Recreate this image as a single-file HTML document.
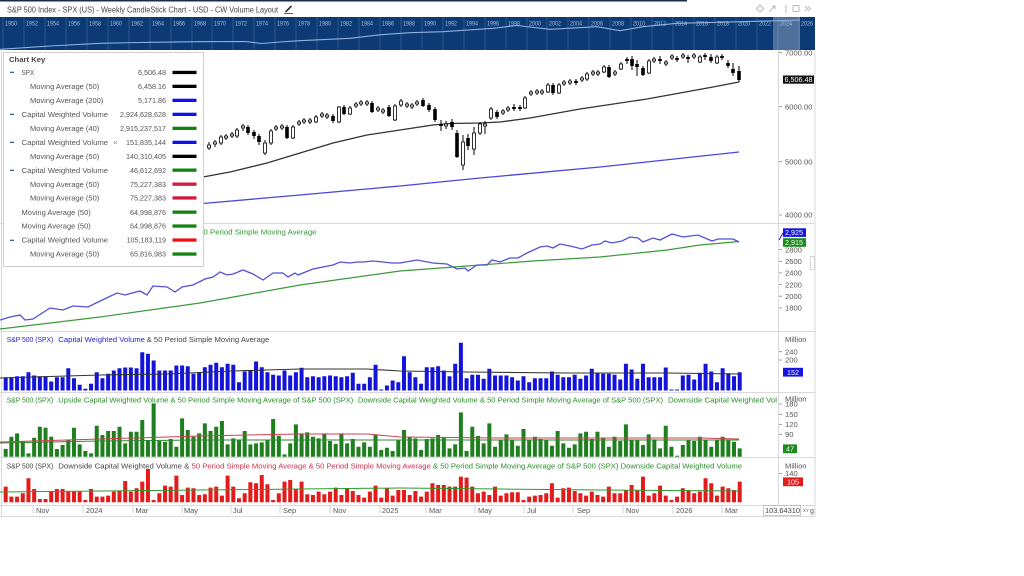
<!DOCTYPE html>
<html><head><meta charset="utf-8"><style>
html,body{margin:0;padding:0;background:#fff;}
svg{display:block;}
</style></head><body>
<svg width="1024" height="576" viewBox="0 0 1024 576" xmlns="http://www.w3.org/2000/svg" font-family="Liberation Sans, sans-serif">
<rect width="1024" height="576" fill="#fff"/>
<rect x="0" y="0" width="687" height="1.5" fill="#1c2b48"/>
<text x="7" y="12.3" font-size="8" fill="#444" textLength="271" lengthAdjust="spacingAndGlyphs">S&amp;P 500 Index - SPX (US) - Weekly CandleStick Chart - USD - CW Volume Layout</text>
<path d="M285.5 12 L291.5 6" stroke="#333" stroke-width="1.6"/><path d="M284 13.6h9" stroke="#333" stroke-width="0.8"/>
<g stroke="#aaa" fill="none" stroke-width="0.8">
<path d="M760 5 L763.5 8.5 L760 12 L756.5 8.5Z"/>
<path d="M769 12 L775 6 M772 6h3v3"/>
<path d="M786 5v8"/>
<rect x="793" y="5.5" width="6" height="6"/>
<path d="M805 6l2.5 2.5l-2.5 2.5M808 6l2.5 2.5l-2.5 2.5"/>
</g>

<g stroke="#d9d9d9" stroke-width="1">
<path d="M0 223.5H815M0 331.5H815M0 392.5H815M0 457.5H815M0 505.5H815M0 516.5H815"/>
<path d="M778.5 50V516.5M1.5 50V516.5M815 50V516.5"/>
</g>

<polyline fill="none" stroke="#333" stroke-width="1.3" points="203,177 230,172 267,163 300,153 333,143 367,135 400,130 433,125 450,123.5 480,123 500,122 530,118 580,109 647,99 680,93 713,87 739,82"/>
<polyline fill="none" stroke="#4b45dc" stroke-width="1.3" points="203,203.5 300,195 400,186 480,178 600,167 739,152"/>

<path fill="none" stroke="#000" stroke-width="1" d="M209 142V150M215 140V147M221 135V145M226 134V140M232 132V138M237 128V138M243 124V131M248 125V135M254 130V139M259 134V145M265 140V155M271 129V145M276 125V131M282 124V130M287 125V139M293 125V139M299 120V126M304 118V124M310 118V124M316 115V123M322 112V118M327 113V119M333 114V123M339 106V123M344 105V115M350 106V115M356 102V108M361 100V106M367 100V106M372 101V113M378 106V112M383 108V114M389 105V117M395 104V121M401 99V107M407 102V108M412 103V109M417 100V106M423 98V107M429 103V112M435 107V122M441 120V131M446 121V129M452 119V130M457 130V158M463 135V170M468 134V150M474 127V155M480 122V135M485 121V134M491 107V120M497 110V119M503 109V115M508 106V112M514 104V111M520 105V111M525 96V109M531 90V96M537 89V95M542 89V95M548 83V93M553 83V95M559 83V94M564 80V86M570 79V85M576 79V85M582 76V82M587 72V81M593 70V76M598 70V76M604 65V73M609 65V78M615 70V76M621 62V70M627 57V64M632 56V70M637 60V76M643 66V76M649 59V74M654 57V63M660 56V64M666 60V66M672 54V60M677 56V62M683 53V59M688 55V63M694 53V59M700 55V63M705 53V60M711 54V63M717 55V64M722 54V60M728 60V68M733 63V76M739 66V82"/>
<path fill="#000" d="M246.2 127h3.6v6h-3.6zM252.2 132h3.6v4h-3.6zM257.2 136h3.6v6h-3.6zM285.2 127h3.6v11h-3.6zM331.2 116h3.6v5h-3.6zM342.2 107h3.6v7h-3.6zM370.2 103h3.6v9h-3.6zM387.2 107h3.6v9h-3.6zM421.2 100h3.6v6h-3.6zM427.2 105h3.6v5h-3.6zM433.2 109h3.6v11h-3.6zM439.2 124h3.6v2h-3.6zM450.2 122h3.6v5h-3.6zM455.2 133h3.6v24h-3.6zM466.2 138h3.6v8h-3.6zM495.2 112h3.6v5h-3.6zM512.2 107h3.6v2h-3.6zM518.2 107h3.6v2h-3.6zM551.2 85h3.6v8h-3.6zM574.2 81h3.6v2h-3.6zM607.2 67h3.6v10h-3.6zM625.2 59h3.6v2h-3.6zM630.2 59h3.6v7h-3.6zM635.2 64h3.6v3h-3.6zM641.2 68h3.6v7h-3.6zM658.2 59h3.6v2h-3.6zM675.2 58h3.6v2h-3.6zM686.2 57h3.6v2h-3.6zM703.2 55h3.6v2h-3.6zM709.2 57h3.6v4h-3.6zM720.2 56h3.6v2h-3.6zM726.2 63h3.6v3h-3.6zM731.2 69h3.6v4h-3.6zM737.2 71h3.6v9h-3.6z"/>
<path fill="#fff" stroke="#000" stroke-width="0.8" d="M207.5 145h3v3h-3zM213.5 142h3v2h-3zM219.5 137h3v6h-3zM224.5 136h3v2h-3zM230.5 134h3v2h-3zM235.5 130h3v6h-3zM241.5 126h3v2h-3zM263.5 143h3v10h-3zM269.5 131h3v12h-3zM274.5 127h3v2h-3zM280.5 126h3v2h-3zM291.5 127h3v11h-3zM297.5 122h3v2h-3zM302.5 120h3v2h-3zM308.5 120h3v2h-3zM314.5 117h3v5h-3zM320.5 114h3v2h-3zM325.5 115h3v2h-3zM337.5 107h3v15h-3zM348.5 108h3v6h-3zM354.5 104h3v2h-3zM359.5 102h3v2h-3zM365.5 102h3v2h-3zM376.5 108h3v2h-3zM381.5 110h3v2h-3zM393.5 106h3v14h-3zM399.5 101h3v4h-3zM405.5 104h3v2h-3zM410.5 105h3v2h-3zM415.5 102h3v2h-3zM444.5 124h3v2h-3zM461.5 142h3v23h-3zM472.5 133h3v16h-3zM478.5 124h3v9h-3zM483.5 124h3v2h-3zM489.5 109h3v9h-3zM501.5 111h3v2h-3zM506.5 108h3v2h-3zM523.5 98h3v10h-3zM529.5 92h3v2h-3zM535.5 91h3v2h-3zM540.5 91h3v2h-3zM546.5 85h3v7h-3zM557.5 85h3v8h-3zM562.5 82h3v2h-3zM568.5 81h3v2h-3zM580.5 78h3v2h-3zM585.5 74h3v5h-3zM591.5 72h3v2h-3zM596.5 72h3v2h-3zM602.5 67h3v5h-3zM613.5 72h3v2h-3zM619.5 64h3v5h-3zM647.5 61h3v12h-3zM652.5 59h3v2h-3zM664.5 62h3v2h-3zM670.5 56h3v2h-3zM681.5 55h3v2h-3zM692.5 55h3v2h-3zM698.5 57h3v5h-3zM715.5 57h3v6h-3z"/>

<polyline fill="none" stroke="#3b9b3b" stroke-width="1.2" points="0,329 50,323 100,317 150,310 200,303 250,294 300,285 350,278 400,271 467,266 533,261 600,257 667,250 700,245 739,241.5"/>
<polyline fill="none" stroke="#5550d8" stroke-width="1.3" points="0,320 10,317 20,315 25,320 33,319 50,308 63,310 73,306 88,307 98,302 117,293 125,295 140,291 147,295 153,286 167,287 175,292 182,287 193,285 205,279 213,277 220,272 227,275 233,274 243,270 253,274 263,280 273,273 283,273 288,277 295,273 298,275 313,269 323,267 333,265 340,262 350,263 357,262 363,262 373,261 383,262 392,263 400,263 417,260 433,263 447,264 457,269 465,268 468,271 477,265 487,265 492,260 500,262 510,258 518,258 527,253 540,247 547,246 553,248 560,244 570,246 582,249 592,245 600,244 605,241 612,243 622,241 630,237 638,238 643,242 653,238 660,240 672,234 683,237 698,235 712,241 718,239 733,239 739,242"/>
<text x="203.5" y="234.6" font-size="7.6" fill="#2e9a2e" textLength="113" lengthAdjust="spacingAndGlyphs">0 Period Simple Moving Average</text>

<path fill="#1414d8" d="M3.7 390.5v-13.3h4v13.3m1.69 0v-13.3h4v13.3m1.69 0v-14.3h4v14.3m1.69 0v-14.3h4v14.3m1.69 0v-18.3h4v18.3m1.69 0v-15h4v15m1.69 0v-14.3h4v14.3m1.69 0v-14.3h4v14.3m1.69 0v-9h4v9m1.69 0v-13.3h4v13.3m1.69 0v-13.3h4v13.3m1.69 0v-22.3h4v22.3m1.69 0v-12.3h4v12.3m1.69 0v-5.7h4v5.7m1.69 0v-1.7h4v1.7m1.69 0v-6.7h4v6.7m1.69 0v-18.3h4v18.3m1.69 0v-12.3h4v12.3m1.69 0v-16.7h4v16.7m1.69 0v-20h4v20m1.69 0v-22.3h4v22.3m1.69 0v-23h4v23m1.69 0v-23h4v23m1.69 0v-22.3h4v22.3m1.69 0v-38.3h4v38.3m1.69 0v-36.7h4v36.7m1.69 0v-30h4v30m1.69 0v-20h4v20m1.69 0v-20h4v20m1.69 0v-20h4v20m1.69 0v-25h4v25m1.69 0v-25h4v25m1.69 0v-24.3h4v24.3m1.69 0v-16.7h4v16.7m1.69 0v-18.3h4v18.3m1.69 0v-23.3h4v23.3m1.69 0v-25.7h4v25.7m1.69 0v-27.7h4v27.7m1.69 0v-23.3h4v23.3m1.69 0v-26.7h4v26.7m1.69 0v-25.7h4v25.7m1.69 0v-8.3h4v8.3m1.69 0v-19h4v19m1.69 0v-20h4v20m1.69 0v-29h4v29m1.69 0v-23.3h4v23.3m1.69 0v-18.3h4v18.3m1.69 0v-15.7h4v15.7m1.69 0v-15h4v15m1.69 0v-20h4v20m1.69 0v-15h4v15m1.69 0v-18.3h4v18.3m1.69 0v-22.7h4v22.7m1.69 0v-13.3h4v13.3m1.69 0v-14.3h4v14.3m1.69 0v-13.3h4v13.3m1.69 0v-14.3h4v14.3m1.69 0v-15h4v15m1.69 0v-14.3h4v14.3m1.69 0v-13.3h4v13.3m1.69 0v-14.3h4v14.3m1.69 0v-17.7h4v17.7m1.69 0v-6.7h4v6.7m1.69 0v-6.7h4v6.7m1.69 0v-13.3h4v13.3m1.69 0v-25.7h4v25.7m1.69 0v-1h4v1m1.69 0v-5h4v5m1.69 0v-10h4v10m1.69 0v-8.3h4v8.3m1.69 0v-34.3h4v34.3m1.69 0v-18.3h4v18.3m1.69 0v-13.3h4v13.3m1.69 0v-6.7h4v6.7m1.69 0v-23.3h4v23.3m1.69 0v-23.3h4v23.3m1.69 0v-24.3h4v24.3m1.69 0v-20h4v20m1.69 0v-14.3h4v14.3m1.69 0v-26.7h4v26.7m1.69 0v-47.7h4v47.7m1.69 0v-12.3h4v12.3m1.69 0v-15.7h4v15.7m1.69 0v-15.7h4v15.7m1.69 0v-11.7h4v11.7m1.69 0v-21.7h4v21.7m1.69 0v-15h4v15m1.69 0v-15h4v15m1.69 0v-15h4v15m1.69 0v-13.3h4v13.3m1.69 0v-10h4v10m1.69 0v-14.3h4v14.3m1.69 0v-8.3h4v8.3m1.69 0v-12.3h4v12.3m1.69 0v-12.3h4v12.3m1.69 0v-12.3h4v12.3m1.69 0v-19h4v19m1.69 0v-15.7h4v15.7m1.69 0v-13.3h4v13.3m1.69 0v-13.3h4v13.3m1.69 0v-15.7h4v15.7m1.69 0v-11.7h4v11.7m1.69 0v-15h4v15m1.69 0v-21.7h4v21.7m1.69 0v-17.7h4v17.7m1.69 0v-16.7h4v16.7m1.69 0v-16.7h4v16.7m1.69 0v-15.7h4v15.7m1.69 0v-11h4v11m1.69 0v-26.7h4v26.7m1.69 0v-21h4v21m1.69 0v-11.7h4v11.7m1.69 0v-26.7h4v26.7m1.69 0v-13.3h4v13.3m1.69 0v-13.3h4v13.3m1.69 0v-13.3h4v13.3m1.69 0v-23h4v23m1.69 0v-1h4v1m1.69 0v-1h4v1m1.69 0v-15h4v15m1.69 0v-15.7h4v15.7m1.69 0v-11h4v11m1.69 0v-17.7h4v17.7m1.69 0v-26.7h4v26.7m1.69 0v-19h4v19m1.69 0v-8.3h4v8.3m1.69 0v-22.3h4v22.3m1.69 0v-17.3h4v17.3m1.69 0v-14.3h4v14.3m1.69 0v-18.3h4v18.3"/>
<polyline fill="none" stroke="#333" stroke-width="1.1" points="0,378 100,375 167,374 233,371 300,369 367,369 400,371 467,372 567,373 667,373 739,374"/>
<text x="6.7" y="342" font-size="7.6" fill="#2424c0" textLength="46.6" lengthAdjust="spacingAndGlyphs">S&amp;P 500 (SPX)</text>
<text x="58.3" y="342" font-size="7.6" fill="#2424c8" textLength="86.7" lengthAdjust="spacingAndGlyphs">Capital Weighted Volume</text>
<text x="146.7" y="342" font-size="7.6" fill="#444" textLength="122.6" lengthAdjust="spacingAndGlyphs">&amp; 50 Period Simple Moving Average</text>

<path fill="#1f7f1f" d="M3.7 456.7v-7.7h4v7.7m1.69 0v-20h4v20m1.69 0v-23.3h4v23.3m1.69 0v-15.7h4v15.7m1.69 0v-3.3h4v3.3m1.69 0v-19h4v19m1.69 0v-30h4v30m1.69 0v-29h4v29m1.69 0v-20h4v20m1.69 0v-7.7h4v7.7m1.69 0v-11.7h4v11.7m1.69 0v-16.7h4v16.7m1.69 0v-29h4v29m1.69 0v-12.3h4v12.3m1.69 0v-5.7h4v5.7m1.69 0v-3.3h4v3.3m1.69 0v-31h4v31m1.69 0v-21.7h4v21.7m1.69 0v-25.7h4v25.7m1.69 0v-25.7h4v25.7m1.69 0v-30h4v30m1.69 0v-13.3h4v13.3m1.69 0v-25h4v25m1.69 0v-25h4v25m1.69 0v-36.7h4v36.7m1.69 0v-16.7h4v16.7m1.69 0v-53.3h4v53.3m1.69 0v-15.7h4v15.7m1.69 0v-15h4v15m1.69 0v-17.7h4v17.7m1.69 0v-10h4v10m1.69 0v-38.3h4v38.3m1.69 0v-26.7h4v26.7m1.69 0v-20h4v20m1.69 0v-23.3h4v23.3m1.69 0v-33.3h4v33.3m1.69 0v-25.7h4v25.7m1.69 0v-30h4v30m1.69 0v-35.7h4v35.7m1.69 0v-12.3h4v12.3m1.69 0v-18.3h4v18.3m1.69 0v-16.7h4v16.7m1.69 0v-25.7h4v25.7m1.69 0v-12.3h4v12.3m1.69 0v-13.3h4v13.3m1.69 0v-14.3h4v14.3m1.69 0v-16.7h4v16.7m1.69 0v-37.7h4v37.7m1.69 0v-21h4v21m1.69 0v-2.3h4v2.3m1.69 0v-13.3h4v13.3m1.69 0v-32.3h4v32.3m1.69 0v-23.3h4v23.3m1.69 0v-24.3h4v24.3m1.69 0v-20h4v20m1.69 0v-18.3h4v18.3m1.69 0v-23.3h4v23.3m1.69 0v-15.7h4v15.7m1.69 0v-12.7h4v12.7m1.69 0v-23.3h4v23.3m1.69 0v-13.3h4v13.3m1.69 0v-17.7h4v17.7m1.69 0v-10h4v10m1.69 0v-14.3h4v14.3m1.69 0v-10h4v10m1.69 0v-22.3h4v22.3m1.69 0v-6.7h4v6.7m1.69 0v-9h4v9m1.69 0v-5.7h4v5.7m1.69 0v-16.7h4v16.7m1.69 0v-26.7h4v26.7m1.69 0v-20h4v20m1.69 0v-18.3h4v18.3m1.69 0v-6.7h4v6.7m1.69 0v-17.7h4v17.7m1.69 0v-18.3h4v18.3m1.69 0v-21.7h4v21.7m1.69 0v-19h4v19m1.69 0v-8.3h4v8.3m1.69 0v-12.3h4v12.3m1.69 0v-44.3h4v44.3m1.69 0v-5.7h4v5.7m1.69 0v-30h4v30m1.69 0v-20.7h4v20.7m1.69 0v-13.3h4v13.3m1.69 0v-33.3h4v33.3m1.69 0v-10h4v10m1.69 0v-16.7h4v16.7m1.69 0v-22.3h4v22.3m1.69 0v-16.7h4v16.7m1.69 0v-11h4v11m1.69 0v-27.7h4v27.7m1.69 0v-16.7h4v16.7m1.69 0v-20h4v20m1.69 0v-17.7h4v17.7m1.69 0v-16.7h4v16.7m1.69 0v-11h4v11m1.69 0v-25.7h4v25.7m1.69 0v-13.3h4v13.3m1.69 0v-9h4v9m1.69 0v-12.3h4v12.3m1.69 0v-23.3h4v23.3m1.69 0v-25h4v25m1.69 0v-17.7h4v17.7m1.69 0v-25h4v25m1.69 0v-18.3h4v18.3m1.69 0v-10h4v10m1.69 0v-20h4v20m1.69 0v-15.7h4v15.7m1.69 0v-32.3h4v32.3m1.69 0v-16.7h4v16.7m1.69 0v-16.7h4v16.7m1.69 0v-11.7h4v11.7m1.69 0v-22.3h4v22.3m1.69 0v-17.3h4v17.3m1.69 0v-8.3h4v8.3m1.69 0v-31h4v31m1.69 0v-10h4v10m1.69 0v-1h4v1m1.69 0v-11.7h4v11.7m1.69 0v-16.7h4v16.7m1.69 0v-15.7h4v15.7m1.69 0v-20h4v20m1.69 0v-16.7h4v16.7m1.69 0v-10h4v10m1.69 0v-16.7h4v16.7m1.69 0v-20h4v20m1.69 0v-16.7h4v16.7m1.69 0v-15h4v15m1.69 0v-8.3h4v8.3"/>
<polyline fill="none" stroke="#2e8b2e" stroke-width="1" points="0,443 100,441 200,440 400,440 739,440"/>
<polyline fill="none" stroke="#d04050" stroke-width="1" points="0,442 100,439 200,436 300,434 367,434 400,437 500,438 600,438 700,438 739,439"/>
<g font-size="7.6" fill="#2a8f2a">
<text x="6.7" y="402.7" textLength="46.6" lengthAdjust="spacingAndGlyphs">S&amp;P 500 (SPX)</text>
<text x="58.3" y="402.7" textLength="295" lengthAdjust="spacingAndGlyphs">Upside Capital Weighted Volume &amp; 50 Period Simple Moving Average of S&amp;P 500 (SPX)</text>
<text x="358" y="402.7" textLength="305" lengthAdjust="spacingAndGlyphs">Downside Capital Weighted Volume &amp; 50 Period Simple Moving Average of S&amp;P 500 (SPX)</text>
<text x="668" y="402.7" textLength="109" lengthAdjust="spacingAndGlyphs">Downside Capital Weighted Vol</text>
</g>

<path fill="#e41b1b" d="M3.7 502.3v-15.7h4v15.7m1.69 0v-5.7h4v5.7m1.69 0v-5.7h4v5.7m1.69 0v-9h4v9m1.69 0v-24h4v24m1.69 0v-13.3h4v13.3m1.69 0v-3.3h4v3.3m1.69 0v-3.3h4v3.3m1.69 0v-10.7h4v10.7m1.69 0v-13.3h4v13.3m1.69 0v-13.3h4v13.3m1.69 0v-10.7h4v10.7m1.69 0v-10.7h4v10.7m1.69 0v-10.7h4v10.7m1.69 0v-2.3h4v2.3m1.69 0v-13.3h4v13.3m1.69 0v-5.7h4v5.7m1.69 0v-5.7h4v5.7m1.69 0v-6.7h4v6.7m1.69 0v-10.7h4v10.7m1.69 0v-11.3h4v11.3m1.69 0v-21.3h4v21.3m1.69 0v-10.7h4v10.7m1.69 0v-14h4v14m1.69 0v-20.7h4v20.7m1.69 0v-33.3h4v33.3m1.69 0v-2.3h4v2.3m1.69 0v-9h4v9m1.69 0v-16.7h4v16.7m1.69 0v-15.7h4v15.7m1.69 0v-26.7h4v26.7m1.69 0v-7.3h4v7.3m1.69 0v-14.7h4v14.7m1.69 0v-14h4v14m1.69 0v-7.3h4v7.3m1.69 0v-8h4v8m1.69 0v-14.7h4v14.7m1.69 0v-15.7h4v15.7m1.69 0v-6.7h4v6.7m1.69 0v-26.7h4v26.7m1.69 0v-15.7h4v15.7m1.69 0v-4h4v4m1.69 0v-9h4v9m1.69 0v-20h4v20m1.69 0v-19h4v19m1.69 0v-27.3h4v27.3m1.69 0v-18h4v18m1.69 0v-2.3h4v2.3m1.69 0v-9h4v9m1.69 0v-20.7h4v20.7m1.69 0v-22.3h4v22.3m1.69 0v-13.3h4v13.3m1.69 0v-20.7h4v20.7m1.69 0v-8h4v8m1.69 0v-7.3h4v7.3m1.69 0v-10.7h4v10.7m1.69 0v-8h4v8m1.69 0v-10.7h4v10.7m1.69 0v-14.7h4v14.7m1.69 0v-7.3h4v7.3m1.69 0v-14h4v14m1.69 0v-11.3h4v11.3m1.69 0v-7.3h4v7.3m1.69 0v-4.7h4v4.7m1.69 0v-10.7h4v10.7m1.69 0v-16.7h4v16.7m1.69 0v-4.7h4v4.7m1.69 0v-14h4v14m1.69 0v-6.7h4v6.7m1.69 0v-12.3h4v12.3m1.69 0v-12.3h4v12.3m1.69 0v-7.3h4v7.3m1.69 0v-11.3h4v11.3m1.69 0v-5.7h4v5.7m1.69 0v-10.7h4v10.7m1.69 0v-19h4v19m1.69 0v-17.3h4v17.3m1.69 0v-17.3h4v17.3m1.69 0v-15.7h4v15.7m1.69 0v-15.7h4v15.7m1.69 0v-25.7h4v25.7m1.69 0v-24.7h4v24.7m1.69 0v-15.7h4v15.7m1.69 0v-9h4v9m1.69 0v-10.7h4v10.7m1.69 0v-7.3h4v7.3m1.69 0v-15.7h4v15.7m1.69 0v-6.7h4v6.7m1.69 0v-9h4v9m1.69 0v-10h4v10m1.69 0v-10h4v10m1.69 0v-2.3h4v2.3m1.69 0v-5.7h4v5.7m1.69 0v-6.7h4v6.7m1.69 0v-7.3h4v7.3m1.69 0v-9h4v9m1.69 0v-19h4v19m1.69 0v-4.7h4v4.7m1.69 0v-14h4v14m1.69 0v-14.7h4v14.7m1.69 0v-11.3h4v11.3m1.69 0v-9h4v9m1.69 0v-6.7h4v6.7m1.69 0v-10.7h4v10.7m1.69 0v-7.3h4v7.3m1.69 0v-5.7h4v5.7m1.69 0v-15.7h4v15.7m1.69 0v-9h4v9m1.69 0v-9h4v9m1.69 0v-12.3h4v12.3m1.69 0v-17.3h4v17.3m1.69 0v-12.3h4v12.3m1.69 0v-25.7h4v25.7m1.69 0v-6.7h4v6.7m1.69 0v-9h4v9m1.69 0v-16.7h4v16.7m1.69 0v-6.7h4v6.7m1.69 0v-2.3h4v2.3m1.69 0v-5.7h4v5.7m1.69 0v-14h4v14m1.69 0v-12.3h4v12.3m1.69 0v-9h4v9m1.69 0v-10.7h4v10.7m1.69 0v-24h4v24m1.69 0v-19h4v19m1.69 0v-6.7h4v6.7m1.69 0v-15.7h4v15.7m1.69 0v-14h4v14m1.69 0v-12.3h4v12.3m1.69 0v-20.7h4v20.7"/>
<polyline fill="none" stroke="#2e9a2e" stroke-width="1" points="0,492 200,490 400,488 500,489 600,490 739,491"/>
<g font-size="7.6">
<text x="6.7" y="468.4" fill="#444" textLength="46.6" lengthAdjust="spacingAndGlyphs">S&amp;P 500 (SPX)</text>
<text x="58.3" y="468.4" fill="#444" textLength="131" lengthAdjust="spacingAndGlyphs">Downside Capital Weighted Volume &amp;</text>
<text x="191.7" y="468.4" fill="#d0304a" textLength="239" lengthAdjust="spacingAndGlyphs">50 Period Simple Moving Average &amp; 50 Period Simple Moving Average</text>
<text x="433" y="468.4" fill="#2a8f2a" textLength="309" lengthAdjust="spacingAndGlyphs">&amp; 50 Period Simple Moving Average of S&amp;P 500 (SPX) Downside Capital Weighted Volume</text>
</g>

<g font-size="7.6" fill="#555">
<path stroke="#888" stroke-width="0.8" d="M779 52.7h3M779 106.7h3M779 161.7h3M779 215h3M779 249.6h3M779 261.3h3M779 272.9h3M779 284.6h3M779 296.2h3M779 307.9h3M779 351.7h3M779 360h3M779 404h3M779 414.3h3M779 424.3h3M779 434.3h3M779 473.5h3"/>
<text x="785" y="55.4">7000.00</text>
<text x="785" y="109.4">6000.00</text>
<text x="785" y="164.4">5000.00</text>
<text x="785" y="217.7">4000.00</text>
<text x="785" y="252.3">2800</text>
<text x="785" y="264">2600</text>
<text x="785" y="275.6">2400</text>
<text x="785" y="287.3">2200</text>
<text x="785" y="298.9">2000</text>
<text x="785" y="310.6">1800</text>
<text x="785" y="342">Million</text>
<text x="785" y="354.4">240</text>
<text x="785" y="362.7">200</text>
<text x="785" y="401.5">Million</text>
<text x="785" y="406.7">180</text>
<text x="785" y="417">150</text>
<text x="785" y="427">120</text>
<text x="785" y="437">90</text>
<text x="785" y="468.4">Million</text>
<text x="785" y="476.2">140</text>
</g>
<path stroke="#1515e0" stroke-width="1" d="M779 240L783 233"/>
<rect x="783" y="75.5" width="31" height="8.2" fill="#111"/>
<text x="784.5" y="82.2" font-size="7.2" fill="#fff" textLength="28" lengthAdjust="spacingAndGlyphs">6,506.48</text>
<rect x="783" y="228.3" width="23" height="8.6" fill="#1515e0"/>
<text x="785" y="235.2" font-size="7.2" fill="#fff">2,925</text>
<rect x="783" y="238.2" width="23" height="8.6" fill="#1a8a1a"/>
<text x="785" y="245.1" font-size="7.2" fill="#fff">2,915</text>
<rect x="783" y="367.8" width="20" height="8.8" fill="#1515e0"/>
<text x="787" y="374.8" font-size="7.2" fill="#fff">152</text>
<rect x="783" y="444.4" width="14" height="8.8" fill="#1a8a1a"/>
<text x="786" y="451.4" font-size="7.2" fill="#fff">47</text>
<rect x="783" y="477.4" width="20" height="8.8" fill="#e51c1c"/>
<text x="787" y="484.4" font-size="7.2" fill="#fff">105</text>
<rect x="810.5" y="256.5" width="4" height="13" fill="none" stroke="#ccc" stroke-width="0.8"/>

<path stroke="#ccc" stroke-width="0.8" d="M33 505.5v8M83 505.5v8M133 505.5v8M182 505.5v8M231 505.5v8M280 505.5v8M330 505.5v8M380 505.5v8M426 505.5v8M475 505.5v8M524 505.5v8M573 505.5v8M623 505.5v8M673 505.5v8M722 505.5v8"/>
<g font-size="7.4" fill="#555">
<text x="36" y="512.8">Nov</text>
<text x="86" y="512.8">2024</text>
<text x="135.5" y="512.8">Mar</text>
<text x="184" y="512.8">May</text>
<text x="233" y="512.8">Jul</text>
<text x="283" y="512.8">Sep</text>
<text x="333" y="512.8">Nov</text>
<text x="382" y="512.8">2025</text>
<text x="429" y="512.8">Mar</text>
<text x="478" y="512.8">May</text>
<text x="527" y="512.8">Jul</text>
<text x="577" y="512.8">Sep</text>
<text x="626" y="512.8">Nov</text>
<text x="676" y="512.8">2026</text>
<text x="725" y="512.8">Mar</text>
</g>
<rect x="763.5" y="505.5" width="37" height="10" fill="#fff" stroke="#bbb" stroke-width="0.8"/>
<text x="765" y="513" font-size="7.2" fill="#444" textLength="35" lengthAdjust="spacingAndGlyphs">103.64310</text>
<text x="803" y="512" font-size="4.5" fill="#555">XY</text>
<text x="810" y="513" font-size="7" fill="#555">g</text>

<rect x="0" y="17" width="815" height="33" fill="#0b3a75"/>
<rect x="773" y="17" width="27" height="33" fill="#ffffff" fill-opacity="0.28"/>
<g stroke="#ffffff" stroke-opacity="0.18" stroke-width="0.8">
<path d="M3 17v33M24 17v33M45 17v33M66 17v33M87 17v33M108 17v33M129 17v33M150 17v33M171 17v33M192 17v33M212 17v33M233 17v33M254 17v33M275 17v33M296 17v33M317 17v33M338 17v33M359 17v33M380 17v33M401 17v33M422 17v33M443 17v33M464 17v33M485 17v33M506 17v33M527 17v33M547 17v33M568 17v33M589 17v33M610 17v33M631 17v33M652 17v33M673 17v33M694 17v33M715 17v33M736 17v33M757 17v33M778 17v33M799 17v33"/>
</g>
<polyline fill="none" stroke="#8fb3e0" stroke-width="1.1" points="0,49.3 50,46 100,43.3 150,42.3 200,41.7 245,41.5 262,43.5 280,42 300,40.7 350,38.3 380,34.8 410,32.7 443,31.7 493,28.3 517,25.5 550,29.3 597,26.7 620,30.7 643,26.7 677,23.3 743,21.7 800,20"/>
<g font-size="6.2" fill="#a9bedc">
<text x="5" y="25.5" textLength="12" lengthAdjust="spacingAndGlyphs">1950</text>
<text x="26" y="25.5" textLength="12" lengthAdjust="spacingAndGlyphs">1952</text>
<text x="47" y="25.5" textLength="12" lengthAdjust="spacingAndGlyphs">1954</text>
<text x="68" y="25.5" textLength="12" lengthAdjust="spacingAndGlyphs">1956</text>
<text x="89" y="25.5" textLength="12" lengthAdjust="spacingAndGlyphs">1958</text>
<text x="110" y="25.5" textLength="12" lengthAdjust="spacingAndGlyphs">1960</text>
<text x="131" y="25.5" textLength="12" lengthAdjust="spacingAndGlyphs">1962</text>
<text x="152" y="25.5" textLength="12" lengthAdjust="spacingAndGlyphs">1964</text>
<text x="173" y="25.5" textLength="12" lengthAdjust="spacingAndGlyphs">1966</text>
<text x="194" y="25.5" textLength="12" lengthAdjust="spacingAndGlyphs">1968</text>
<text x="214" y="25.5" textLength="12" lengthAdjust="spacingAndGlyphs">1970</text>
<text x="235" y="25.5" textLength="12" lengthAdjust="spacingAndGlyphs">1972</text>
<text x="256" y="25.5" textLength="12" lengthAdjust="spacingAndGlyphs">1974</text>
<text x="277" y="25.5" textLength="12" lengthAdjust="spacingAndGlyphs">1976</text>
<text x="298" y="25.5" textLength="12" lengthAdjust="spacingAndGlyphs">1978</text>
<text x="319" y="25.5" textLength="12" lengthAdjust="spacingAndGlyphs">1980</text>
<text x="340" y="25.5" textLength="12" lengthAdjust="spacingAndGlyphs">1982</text>
<text x="361" y="25.5" textLength="12" lengthAdjust="spacingAndGlyphs">1984</text>
<text x="382" y="25.5" textLength="12" lengthAdjust="spacingAndGlyphs">1986</text>
<text x="403" y="25.5" textLength="12" lengthAdjust="spacingAndGlyphs">1988</text>
<text x="424" y="25.5" textLength="12" lengthAdjust="spacingAndGlyphs">1990</text>
<text x="445" y="25.5" textLength="12" lengthAdjust="spacingAndGlyphs">1992</text>
<text x="466" y="25.5" textLength="12" lengthAdjust="spacingAndGlyphs">1994</text>
<text x="487" y="25.5" textLength="12" lengthAdjust="spacingAndGlyphs">1996</text>
<text x="508" y="25.5" textLength="12" lengthAdjust="spacingAndGlyphs">1998</text>
<text x="529" y="25.5" textLength="12" lengthAdjust="spacingAndGlyphs">2000</text>
<text x="549" y="25.5" textLength="12" lengthAdjust="spacingAndGlyphs">2002</text>
<text x="570" y="25.5" textLength="12" lengthAdjust="spacingAndGlyphs">2004</text>
<text x="591" y="25.5" textLength="12" lengthAdjust="spacingAndGlyphs">2006</text>
<text x="612" y="25.5" textLength="12" lengthAdjust="spacingAndGlyphs">2008</text>
<text x="633" y="25.5" textLength="12" lengthAdjust="spacingAndGlyphs">2010</text>
<text x="654" y="25.5" textLength="12" lengthAdjust="spacingAndGlyphs">2012</text>
<text x="675" y="25.5" textLength="12" lengthAdjust="spacingAndGlyphs">2014</text>
<text x="696" y="25.5" textLength="12" lengthAdjust="spacingAndGlyphs">2016</text>
<text x="717" y="25.5" textLength="12" lengthAdjust="spacingAndGlyphs">2018</text>
<text x="738" y="25.5" textLength="12" lengthAdjust="spacingAndGlyphs">2020</text>
<text x="759" y="25.5" textLength="12" lengthAdjust="spacingAndGlyphs">2022</text>
<text x="780" y="25.5" textLength="12" lengthAdjust="spacingAndGlyphs">2024</text>
<text x="801" y="25.5" textLength="12" lengthAdjust="spacingAndGlyphs">2026</text>
</g>

<rect x="3.5" y="52.5" width="200" height="214" fill="#fff" stroke="#cfcfcf" stroke-width="1"/>
<text x="9" y="62" font-size="7.7" font-weight="bold" fill="#444">Chart Key</text>
<g fill="#3d5f8f">
<rect x="10" y="71.7" width="4" height="1.3"/>
<rect x="10" y="113.7" width="4" height="1.3"/>
<rect x="10" y="141.7" width="4" height="1.3"/>
<rect x="10" y="169.7" width="4" height="1.3"/>
<rect x="10" y="239.7" width="4" height="1.3"/>
</g>
<g font-size="7.55" fill="#555">
<text x="21.5" y="75.1" textLength="12.7" lengthAdjust="spacingAndGlyphs">SPX</text>
<text x="30" y="89" textLength="69.3" lengthAdjust="spacingAndGlyphs">Moving Average (50)</text>
<text x="30" y="103" textLength="73.3" lengthAdjust="spacingAndGlyphs">Moving Average (200)</text>
<text x="21.5" y="117" textLength="86.6" lengthAdjust="spacingAndGlyphs">Capital Weighted Volume</text>
<text x="30" y="131" textLength="69.3" lengthAdjust="spacingAndGlyphs">Moving Average (40)</text>
<text x="21.5" y="145" textLength="86.6" lengthAdjust="spacingAndGlyphs">Capital Weighted Volume</text>
<text x="113" y="145" fill="#888">×</text>
<text x="30" y="159" textLength="69.3" lengthAdjust="spacingAndGlyphs">Moving Average (50)</text>
<text x="21.5" y="172.8" textLength="86.6" lengthAdjust="spacingAndGlyphs">Capital Weighted Volume</text>
<text x="30" y="186.8" textLength="69.3" lengthAdjust="spacingAndGlyphs">Moving Average (50)</text>
<text x="30" y="200.6" textLength="69.3" lengthAdjust="spacingAndGlyphs">Moving Average (50)</text>
<text x="21.5" y="214.8" textLength="69.3" lengthAdjust="spacingAndGlyphs">Moving Average (50)</text>
<text x="21.5" y="228.7" textLength="69.3" lengthAdjust="spacingAndGlyphs">Moving Average (50)</text>
<text x="21.5" y="242.7" textLength="86.6" lengthAdjust="spacingAndGlyphs">Capital Weighted Volume</text>
<text x="30" y="256.7" textLength="69.3" lengthAdjust="spacingAndGlyphs">Moving Average (50)</text>
</g>
<g font-size="7.2" fill="#555" text-anchor="end">
<text x="166" y="75.1">6,506.48</text>
<text x="166" y="89">6,458.16</text>
<text x="166" y="103">5,171.86</text>
<text x="166" y="117">2,924,628,628</text>
<text x="166" y="131">2,915,237,517</text>
<text x="166" y="145">151,835,144</text>
<text x="166" y="159">140,310,405</text>
<text x="166" y="172.8">46,612,692</text>
<text x="166" y="186.8">75,227,383</text>
<text x="166" y="200.6">75,227,383</text>
<text x="166" y="214.8">64,998,876</text>
<text x="166" y="228.7">64,998,876</text>
<text x="166" y="242.7">105,183,119</text>
<text x="166" y="256.7">65,816,983</text>
</g>
<rect x="172.5" y="70.8" width="24" height="3.3" fill="#000"/>
<rect x="172.5" y="84.7" width="24" height="3.3" fill="#000"/>
<rect x="172.5" y="98.7" width="24" height="3.3" fill="#1010e8"/>
<rect x="172.5" y="112.7" width="24" height="3.3" fill="#1010e8"/>
<rect x="172.5" y="126.7" width="24" height="3.3" fill="#118411"/>
<rect x="172.5" y="140.7" width="24" height="3.3" fill="#1010e8"/>
<rect x="172.5" y="154.7" width="24" height="3.3" fill="#000"/>
<rect x="172.5" y="168.5" width="24" height="3.3" fill="#118411"/>
<rect x="172.5" y="182.5" width="24" height="3.3" fill="#d01840"/>
<rect x="172.5" y="196.3" width="24" height="3.3" fill="#d01840"/>
<rect x="172.5" y="210.5" width="24" height="3.3" fill="#118411"/>
<rect x="172.5" y="224.4" width="24" height="3.3" fill="#118411"/>
<rect x="172.5" y="238.4" width="24" height="3.3" fill="#ee1010"/>
<rect x="172.5" y="252.4" width="24" height="3.3" fill="#118411"/>
</svg>
</body></html>
